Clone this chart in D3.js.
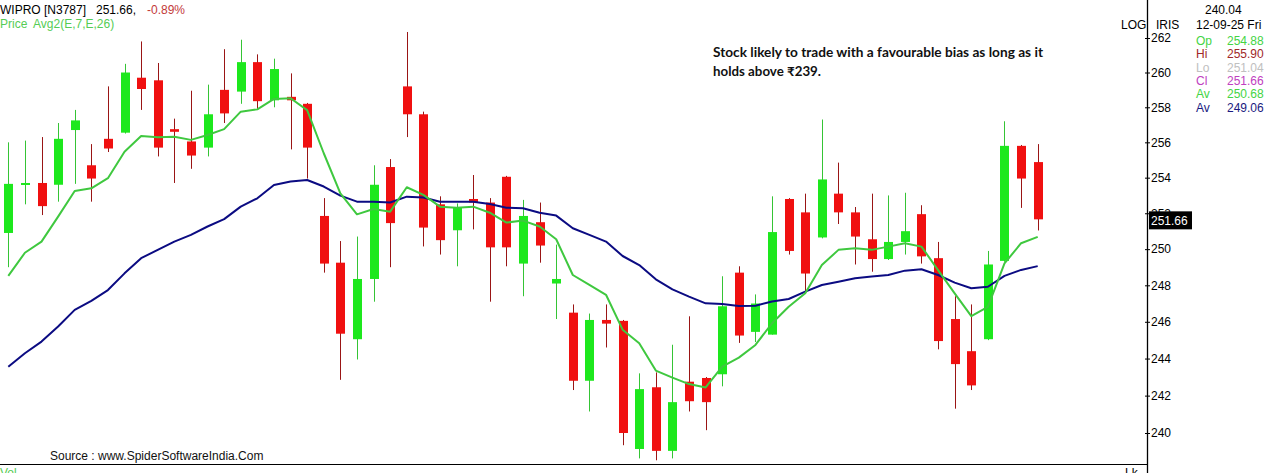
<!DOCTYPE html>
<html>
<head>
<meta charset="utf-8">
<script src="https://cdn.jsdelivr.net/npm/d3@7/dist/d3.min.js"></script>
<style>
html,body{margin:0;padding:0;background:#fff;overflow:hidden;}
svg{display:block;}
</style>
</head>
<body>
<svg id="chart" width="1266" height="473"></svg>
<script>
// ---------- DATA ----------
const dates = [
  "16-06-25","17-06-25","18-06-25","19-06-25","20-06-25","23-06-25","24-06-25","25-06-25","26-06-25","27-06-25",
  "30-06-25","01-07-25","02-07-25","03-07-25","04-07-25","07-07-25","08-07-25","09-07-25","10-07-25","11-07-25",
  "14-07-25","15-07-25","16-07-25","17-07-25","18-07-25","21-07-25","22-07-25","23-07-25","24-07-25","25-07-25",
  "28-07-25","29-07-25","30-07-25","31-07-25","01-08-25","04-08-25","05-08-25","06-08-25","07-08-25","08-08-25",
  "11-08-25","12-08-25","13-08-25","14-08-25","18-08-25","19-08-25","20-08-25","21-08-25","22-08-25","25-08-25",
  "26-08-25","28-08-25","29-08-25","01-09-25","02-09-25","03-09-25","04-09-25","05-09-25","08-09-25","09-09-25",
  "10-09-25","11-09-25","12-09-25"
];
const open = [
  250.9,253.6,253.7,253.6,256.7,254.7,256.2,256.55,259.7,259.55,
  256.75,256.05,255.7,259.0,258.9,260.6,258.4,258.6,258.2,251.85,
  249.25,245.05,248.35,254.6,259.2,257.6,252.5,251.05,252.8,252.6,
  254.05,249.2,251.5,248.1,246.5,242.8,246.1,246.05,239.15,242.45,
  239.05,242.75,242.95,243.15,248.7,245.45,245.3,252.8,252.05,250.65,
  253.1,252.05,250.55,249.45,250.4,251.95,249.5,246.15,244.4,245.05,
  249.35,255.8,254.88
];
const high = [
  256.0,256.1,256.3,257.1,257.85,255.9,259.2,260.5,261.8,260.55,
  257.35,258.95,259.3,261.35,261.9,261.05,260.8,259.95,258.25,252.85,
  250.45,250.7,254.7,255.05,262.35,257.75,252.95,252.55,254.15,252.85,
  254.1,252.75,252.6,250.25,246.95,246.45,246.95,246.1,243.2,243.25,
  244.75,246.3,243.0,248.5,249.05,247.5,252.95,252.85,253.1,257.3,
  254.85,252.35,253.1,253.0,253.15,252.45,250.4,247.4,246.95,249.9,
  257.2,255.85,255.90
];
const low = [
  249.0,252.5,251.9,252.65,253.65,252.65,255.45,256.5,257.85,255.2,
  253.7,254.5,255.2,257.1,258.2,257.9,258.0,255.6,253.95,248.7,
  242.85,243.95,247.1,249.0,256.3,250.15,249.7,249.05,251.1,247.1,
  249.05,247.4,249.25,246.15,242.3,241.15,244.6,239.35,238.65,238.55,
  238.65,241.15,240.15,242.5,244.85,244.9,245.3,249.7,247.55,250.6,
  251.4,249.15,248.75,249.4,249.7,249.2,244.5,241.3,242.3,245.0,
  249.3,252.3,251.04
];
const close = [
  253.65,253.7,252.4,256.2,257.25,253.95,255.65,260.0,259.05,255.7,
  256.6,255.25,257.6,257.65,260.6,258.35,260.2,258.4,255.7,249.2,
  245.35,248.35,253.6,251.45,257.6,251.2,250.5,252.3,252.6,250.1,
  250.1,251.85,250.2,248.35,242.8,246.1,245.9,240.0,242.35,239.05,
  241.65,241.7,241.65,246.85,245.25,247.0,250.95,249.9,248.65,253.9,
  252.05,250.7,249.45,250.4,251.0,249.6,244.95,243.7,242.55,249.15,
  255.8,253.95,251.66
];
// Moving averages (green = 7, navy = 26)
const avg7 = [
  248.52,249.8,250.42,251.81,253.25,253.4,253.97,255.47,256.36,256.29,
  256.32,256.14,256.42,256.75,257.75,257.88,258.48,258.52,257.84,255.38,
  253.12,251.94,252.24,252.09,253.46,253.03,252.37,252.31,252.37,252.03,
  251.48,251.59,251.26,250.55,248.57,248.02,247.48,245.57,244.83,243.35,
  242.97,242.62,242.44,243.56,244.05,244.74,245.92,246.82,247.56,249.12,
  249.96,250.05,249.96,250.14,250.33,250.14,248.84,247.56,246.31,246.82,
  249.21,250.33,250.68
];
const avg26 = [
  243.56,244.29,244.92,245.74,246.65,247.15,247.74,248.66,249.5,249.96,
  250.42,250.79,251.26,251.67,252.37,252.84,253.59,253.78,253.87,253.5,
  252.99,252.65,252.65,252.6,252.93,252.88,252.65,252.65,252.65,252.52,
  252.31,252.28,252.03,251.87,251.16,250.79,250.42,249.62,249.12,248.33,
  247.78,247.38,247.01,246.98,246.87,246.88,247.11,247.25,247.65,248.02,
  248.2,248.39,248.48,248.57,248.81,248.89,248.57,248.15,247.84,247.92,
  248.52,248.85,249.06
];
const priceTicks = [240,242,244,246,248,250,252,254,256,258,260,262];
const headerName = "WIPRO [N3787]";
const lastPrice = "251.66,";
const changePct = "-0.89%";
const studyLabel = ["Price", "Avg2(E,7,E,26)"];
const infoTop = "240.04";
const infoDate = "12-09-25 Fri";
const infoLabels = ["Op","Hi","Lo","Cl","Av","Av"];
const infoValues = ["254.88","255.90","251.04","251.66","250.68","249.06"];
const note = ["Stock likely to trade with a favourable bias as long as it", "holds above \u20B9239."];
const sourceText = "Source : www.SpiderSoftwareIndia.Com";

// ---------- CHART ----------
const W = 1266, H = 473;
const svg = d3.select("#chart");
svg.append("rect").attr("width", W).attr("height", H).attr("fill", "#fff");

const axisX = 1147;
const x = d3.scalePoint().domain(dates).range([8.3, 1037.7]);
const y = d3.scaleLog().domain([240, 262]).range([433, 38]);

const candles = dates.map((d, i) => ({d, o: open[i], h: high[i], l: low[i], c: close[i]}));
const upBody = "#1de81d", downBody = "#f01010";
const upWick = "#35c435", downWick = "#9a1515";
const bw = 9;

const gC = svg.append("g");
gC.selectAll("line.wick").data(candles).join("line")
  .attr("x1", d => Math.round(x(d.d)) + 0.5).attr("x2", d => Math.round(x(d.d)) + 0.5)
  .attr("y1", d => y(d.h)).attr("y2", d => y(d.l))
  .attr("stroke", d => d.c >= d.o ? upWick : downWick).attr("stroke-width", 1);
gC.selectAll("rect.body").data(candles).join("rect")
  .attr("x", d => Math.round(x(d.d)) + 0.5 - bw / 2)
  .attr("width", bw)
  .attr("y", d => y(Math.max(d.o, d.c)))
  .attr("height", d => Math.max(2, y(Math.min(d.o, d.c)) - y(Math.max(d.o, d.c))))
  .attr("fill", d => d.c >= d.o ? upBody : downBody);

const line = d3.line().x((v, i) => x(dates[i])).y(v => y(v));
svg.append("path").attr("d", line(avg26)).attr("fill", "none")
  .attr("stroke", "#0b0b82").attr("stroke-width", 2).attr("stroke-linejoin", "round");
svg.append("path").attr("d", line(avg7)).attr("fill", "none")
  .attr("stroke", "#3fc83f").attr("stroke-width", 2).attr("stroke-linejoin", "round");

// ---------- AXIS ----------
const font = "'Liberation Sans', Arial, sans-serif";
const gA = svg.append("g").attr("transform", `translate(${axisX},0)`)
  .call(d3.axisRight(y).tickValues(priceTicks).tickFormat(d3.format("d")).tickSize(3).tickPadding(1));
gA.select(".domain").remove();
gA.selectAll(".tick line").attr("x1", -2).attr("x2", 3).attr("stroke", "#000");
gA.selectAll(".tick text").attr("font-family", font).attr("font-size", 12).attr("fill", "#000");
svg.append("line").attr("x1", axisX + 0.5).attr("x2", axisX + 0.5).attr("y1", 0).attr("y2", H)
  .attr("stroke", "#000").attr("stroke-width", 1.3);

// last price box
const yl = y(close[close.length - 1]);
svg.append("rect").attr("x", axisX + 2).attr("y", yl - 8).attr("width", 43).attr("height", 18).attr("fill", "#000");
svg.append("text").attr("x", axisX + 4).attr("y", yl + 5.5).attr("font-family", font).attr("font-size", 12)
  .attr("fill", "#fff").text(close[close.length - 1].toFixed(2));

// bottom separator
svg.append("line").attr("x1", 0).attr("x2", axisX).attr("y1", 464.5).attr("y2", 464.5)
  .attr("stroke", "#000").attr("stroke-width", 1.2);
svg.append("text").attr("x", 0).attr("y", 477).attr("font-family", font).attr("font-size", 12)
  .attr("fill", "#55cc55").text("Vol");
svg.append("text").attr("x", 1125).attr("y", 477).attr("font-family", font).attr("font-size", 12)
  .attr("fill", "#000").text("Lk");
svg.append("text").attr("x", 50).attr("y", 459.5).attr("font-family", font).attr("font-size", 12)
  .attr("fill", "#111").text(sourceText);

// header
const h1 = svg.append("text").attr("x", 0).attr("y", 13.5).attr("font-family", font).attr("font-size", 12);
h1.append("tspan").attr("fill", "#000").text(headerName);
h1.append("tspan").attr("x", 96).attr("fill", "#000").text(lastPrice);
h1.append("tspan").attr("x", 147).attr("fill", "#c33a3a").text(changePct);
const h2 = svg.append("text").attr("x", 0).attr("y", 27.5).attr("font-family", font).attr("font-size", 12).attr("fill", "#55cc55");
h2.append("tspan").text(studyLabel[0]);
h2.append("tspan").attr("x", 33).text(studyLabel[1]);

// right info panel
svg.append("text").attr("x", 1121).attr("y", 28.5).attr("font-family", font).attr("font-size", 12).attr("fill", "#000").text("LOG");
svg.append("text").attr("x", 1156).attr("y", 28.5).attr("font-family", font).attr("font-size", 12).attr("fill", "#000").text("IRIS");
svg.append("text").attr("x", 1205).attr("y", 14).attr("font-family", font).attr("font-size", 12).attr("fill", "#000").text(infoTop);
svg.append("text").attr("x", 1196).attr("y", 28.5).attr("font-family", font).attr("font-size", 12).attr("fill", "#000").text(infoDate);
const infoColors = ["#44d444","#a02828","#c0c0c0","#c040c0","#44d444","#1a1a80"];
infoLabels.forEach((lb, i) => {
  const yy = 45 + i * 13.3;
  svg.append("text").attr("x", 1196).attr("y", yy).attr("font-family", font).attr("font-size", 12).attr("fill", infoColors[i]).text(lb);
  svg.append("text").attr("x", 1227).attr("y", yy).attr("font-family", font).attr("font-size", 12).attr("fill", infoColors[i]).text(infoValues[i]);
});

// annotation
const nf = "Lato, 'Open Sans', 'Noto Sans', sans-serif";
svg.append("text").attr("x", 713).attr("y", 57).attr("font-family", nf).attr("font-weight", "bold").attr("font-size", 12.5)
  .attr("fill", "#111").attr("textLength", 330).attr("lengthAdjust", "spacingAndGlyphs").text(note[0]);
svg.append("text").attr("x", 713).attr("y", 76).attr("font-family", nf).attr("font-weight", "bold").attr("font-size", 12.5)
  .attr("fill", "#111").attr("textLength", 108).attr("lengthAdjust", "spacingAndGlyphs").text(note[1]);
</script>
</body>
</html>
